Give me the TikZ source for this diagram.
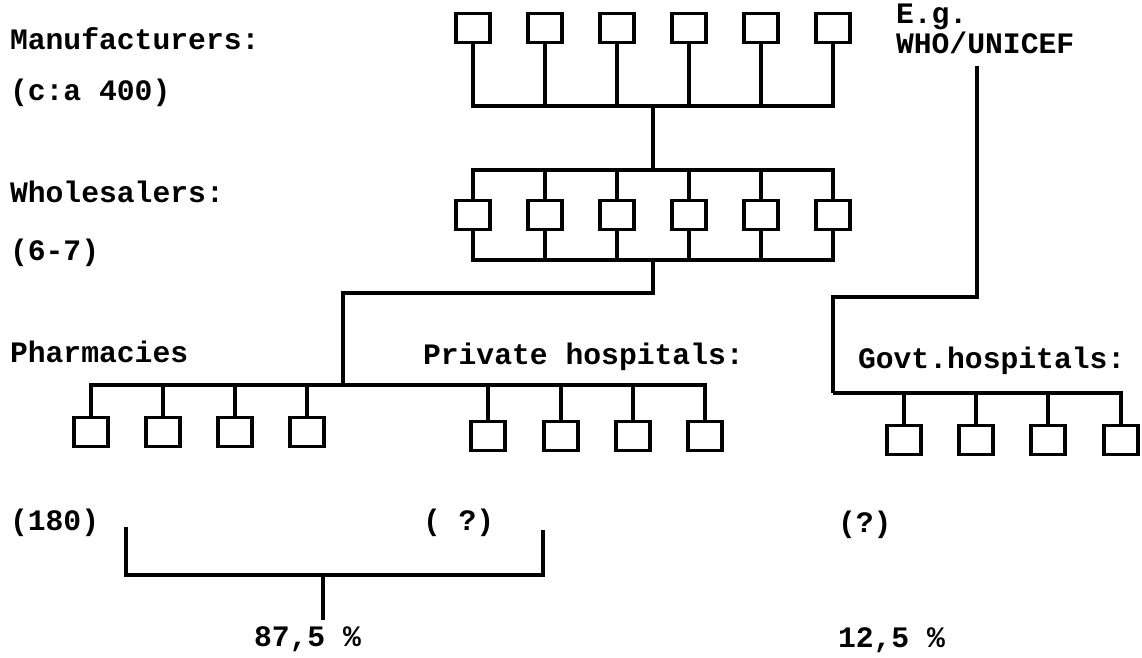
\documentclass[tikz,border=0pt]{standalone}
\usepackage{fontspec}
\newfontfamily\typew{Liberation Mono}
\tikzset{
  x=1pt, y=-1pt,
  unit/.style={draw, line width=3.4pt, minimum width=34pt, minimum height=29pt,
               inner sep=0pt, outer sep=0pt},
  link/.style={line width=3.4pt, line join=miter},
  lbl/.style={anchor=base west, inner sep=0pt, outer sep=0pt,
              font=\typew\bfseries\fontsize{29.7}{30}\selectfont},
}
\begin{document}
\begin{tikzpicture}
\fill[white] (0,0) rectangle (1142,657);
\useasboundingbox (0,0) rectangle (1142,657);

% level labels on the left
\node[lbl] (manuf)  at (10,49)  {Manufacturers:};
\node[lbl] (manufn) at (10,100) {(c:a 400)};
\node[lbl] (whole)  at (10,202) {Wholesalers:};
\node[lbl] (wholen) at (10,260) {(6-7)};
\node[lbl] (pharm)  at (10,362) {Pharmacies};
\node[lbl] (priv)   at (423,364) {Private hospitals:};
\node[lbl] (govt)   at (858,368) {Govt.hospitals:};
\node[lbl] (eg)     at (896,23) {E.g.};
\node[lbl] (who)    at (896,53) {WHO/UNICEF};
\node[lbl] (pharmn) at (10,530) {(180)};
\node[lbl] (privn)  at (423,530) {( ?)};
\node[lbl] (govtn)  at (838,532) {(?)};
\node[lbl] (share)  at (254,646) {87,5 \%};
\node[lbl] (gshare) at (838,647) {12,5 \%};

% manufacturers and wholesalers
\foreach \i/\x in {1/473,2/545,3/617,4/689,5/761,6/833} {
  \node[unit] (m\i) at (\x,28) {};
  \node[unit] (w\i) at (\x,215) {};
}
\coordinate (mbus) at (653,106);
\coordinate (wtop) at (653,170);
\coordinate (wbot) at (653,260);
\foreach \i in {1,...,6} {
  \draw[link] (m\i.south) |- (mbus);
  \draw[link] (w\i.north) |- (wtop);
  \draw[link] (w\i.south) |- (wbot);
}
\draw[link] (mbus) -- (wtop);

% pharmacies and private hospitals
\foreach \i/\x in {1/91,2/163,3/235,4/307} \node[unit] (p\i) at (\x,432) {};
\foreach \i/\x in {1/488,2/561,3/633,4/705} \node[unit] (h\i) at (\x,436) {};
\coordinate (pbus) at (343,385);
\draw[link] (wbot) -- ++(0,33) -| (pbus);
\foreach \i in {1,...,4} {
  \draw[link] (p\i.north) |- (pbus);
  \draw[link] (h\i.north) |- (pbus);
}

% government hospitals, supplied directly
\foreach \i/\x in {1/904,2/976,3/1048,4/1121} \node[unit] (g\i) at (\x,440) {};
\coordinate (whoend) at (977,66);
\coordinate (gbus) at (833,393);
\draw[link] (whoend) -- (977,297) -| (gbus);
\foreach \i in {1,...,4} \draw[link] (g\i.north) |- (gbus);

% bracket joining pharmacies and private hospitals
\coordinate (bl) at (126,527);
\coordinate (br) at (543,530);
\coordinate (bmid) at (323,575);
\coordinate (bstem) at (323,620);
\draw[link] (bl) |- (bmid) -| (br);
\draw[link] (bmid) -- (bstem);
\end{tikzpicture}
\end{document}
